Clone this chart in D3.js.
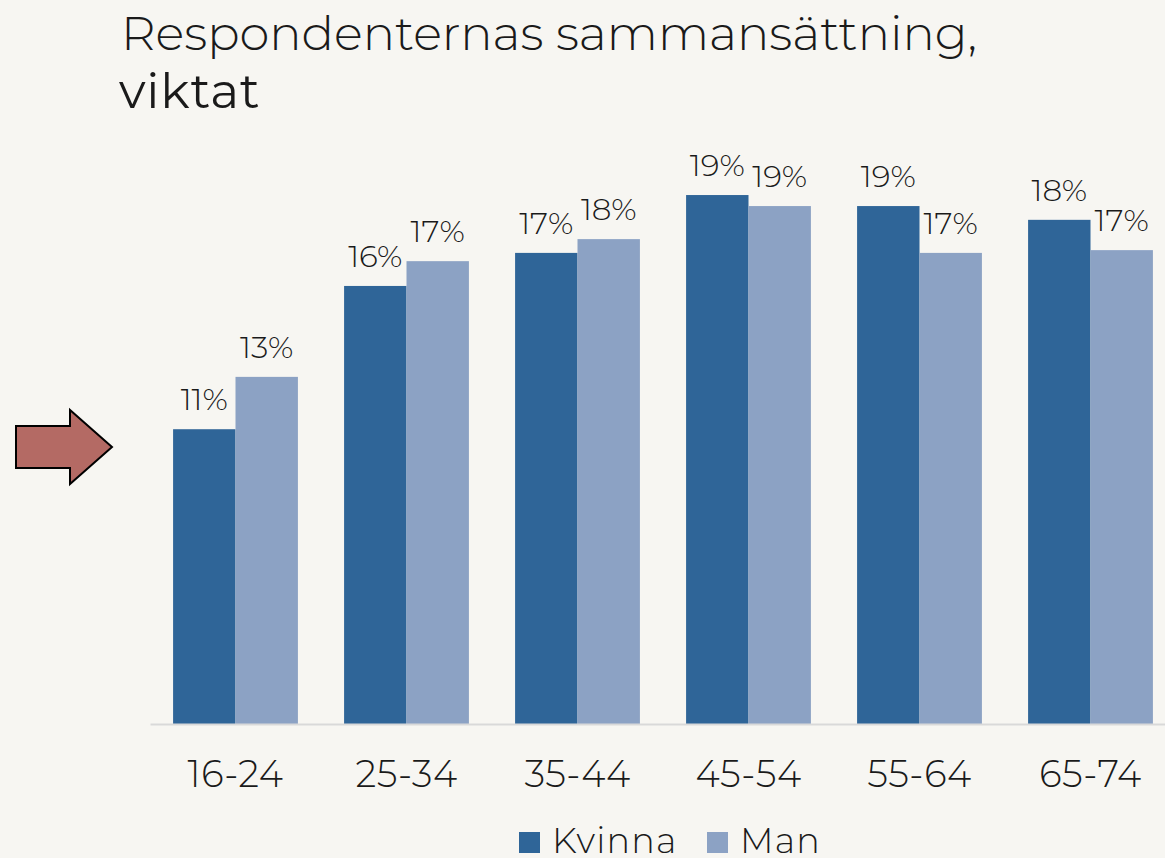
<!DOCTYPE html>
<html>
<head>
<meta charset="utf-8">
<script src="https://cdn.jsdelivr.net/npm/d3@7"></script>
<style>
  body { margin: 0; background: #f7f6f2; }
  svg text { font-family: "Montserrat", "Inter", "Open Sans", sans-serif; fill: #1a1a1a; }
</style>
</head>
<body>
<div id="chart-area"></div>
<script>
// age groups and share per gender (percent, weighted)
var ageGroups = ["16-24", "25-34", "35-44", "45-54", "55-64", "65-74"];
var seriesNames = ["Kvinna", "Man"];
var kvinnaValues = [10.7, 15.9, 17.1, 19.2, 18.8, 18.3];
var manValues = [12.6, 16.8, 17.6, 18.8, 17.1, 17.2];
var seriesColors = ["#2f6598", "#8ca2c4"];

var width = 1165;
var height = 858;

var svg = d3.select("#chart-area").append("svg")
    .attr("width", width)
    .attr("height", height);

svg.append("rect")
    .attr("width", width)
    .attr("height", height)
    .attr("fill", "#f7f6f2");

// title
svg.append("text")
    .attr("x", 121)
    .attr("y", 50)
    .attr("font-size", 48)
    .attr("font-weight", 300)
    .text("Respondenternas sammansättning,");

svg.append("text")
    .attr("x", 119)
    .attr("y", 108)
    .attr("font-size", 49)
    .attr("font-weight", 400)
    .attr("letter-spacing", 0.8)
    .text("viktat");

// arrow
var arrow = d3.path();
arrow.moveTo(16, 426);
arrow.lineTo(70, 426);
arrow.lineTo(70, 410);
arrow.lineTo(112, 447);
arrow.lineTo(70, 484);
arrow.lineTo(70, 468);
arrow.lineTo(16, 468);
arrow.closePath();

svg.append("path")
    .attr("d", arrow.toString())
    .attr("fill", "#b46a64")
    .attr("stroke", "#000")
    .attr("stroke-width", 2)
    .attr("stroke-linejoin", "miter");

var x0 = d3.scaleBand()
    .domain(ageGroups)
    .range([150, 1176])
    .paddingInner(0.27)
    .paddingOuter(0.135);

var x1 = d3.scaleBand()
    .domain(seriesNames)
    .range([0, x0.bandwidth()]);

var y = d3.scaleLinear()
    .domain([0, 20])
    .range([724, 173]);

var data = ageGroups.map(function(g, i) {
    return { group: g, values: [
        { key: "Kvinna", value: kvinnaValues[i] },
        { key: "Man", value: manValues[i] }
    ]};
});

var color = d3.scaleOrdinal()
    .domain(seriesNames)
    .range(seriesColors);

var groups = svg.selectAll("g.group")
    .data(data)
    .enter()
    .append("g")
    .attr("class", "group")
    .attr("transform", function(d) { return "translate(" + x0(d.group) + ",0)"; });

groups.selectAll("rect")
    .data(function(d) { return d.values; })
    .enter()
    .append("rect")
    .attr("x", function(d) { return x1(d.key); })
    .attr("y", function(d) { return y(d.value); })
    .attr("width", x1.bandwidth())
    .attr("height", function(d) { return y(0) - y(d.value); })
    .attr("fill", function(d) { return color(d.key); });

groups.selectAll("text")
    .data(function(d) { return d.values; })
    .enter()
    .append("text")
    .attr("x", function(d) { return x1(d.key) + x1.bandwidth() / 2; })
    .attr("y", function(d) { return y(d.value) - 19; })
    .attr("text-anchor", "middle")
    .attr("font-size", 31)
    .attr("font-weight", 300)
    .text(function(d) { return Math.round(d.value) + "%"; });

// x axis
var xAxis = svg.append("g")
    .attr("transform", "translate(0," + y(0) + ")")
    .call(d3.axisBottom(x0).tickSize(0).tickPadding(37));

xAxis.select(".domain")
    .attr("stroke", "#d9d9d9")
    .attr("stroke-width", 2);

xAxis.selectAll("text")
    .attr("font-size", 37)
    .attr("font-weight", 300)
    .attr("letter-spacing", 0.5)
    .attr("fill", "#1a1a1a");

// legend
var legendX = [519, 707];
var legend = svg.selectAll("g.legend")
    .data(seriesNames)
    .enter()
    .append("g")
    .attr("class", "legend")
    .attr("transform", function(d, i) { return "translate(" + legendX[i] + ",832)"; });

legend.append("rect")
    .attr("width", 21)
    .attr("height", 21)
    .attr("fill", function(d) { return color(d); });

legend.append("text")
    .attr("x", 33)
    .attr("y", 21)
    .attr("font-size", 35)
    .attr("font-weight", 300)
    .attr("letter-spacing", 1.2)
    .text(function(d) { return d; });
</script>
</body>
</html>
